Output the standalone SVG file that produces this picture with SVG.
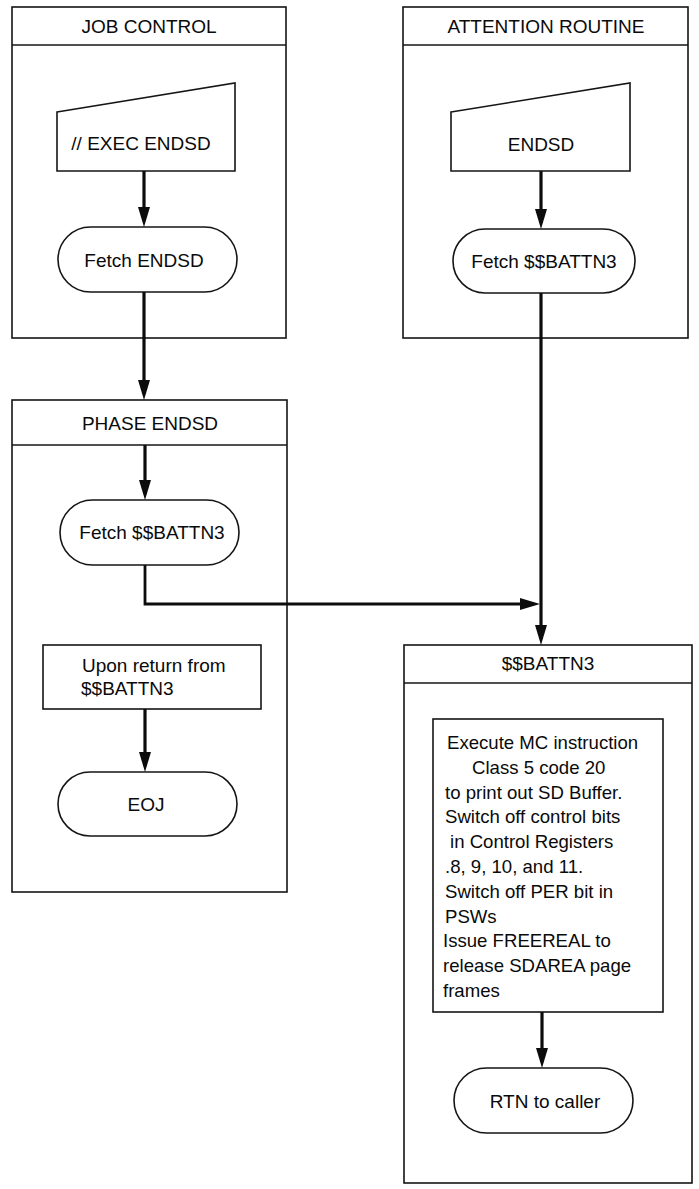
<svg xmlns="http://www.w3.org/2000/svg" width="699" height="1189" viewBox="0 0 699 1189">
  <style>
    .frame { fill: none; stroke: #151515; stroke-width: 1.6; }
    .shape { fill: #ffffff; stroke: #151515; stroke-width: 1.6; }
    .flow { fill: none; stroke: #0c0c0c; stroke-width: 3.2; }
    .label { font-family: "Liberation Sans", Arial, sans-serif; font-size: 19px; fill: #0a0a0a; }
    .body { font-size: 18.6px; }
    .mid { text-anchor: middle; }
  </style>
  <defs>
    <marker id="head" markerUnits="userSpaceOnUse" markerWidth="20" markerHeight="12" refX="14" refY="6" orient="auto">
      <path d="M0,0 L20,6 L0,12 z" fill="#0c0c0c"/>
    </marker>
  </defs>
  <rect width="699" height="1189" fill="#ffffff"/>

  <!-- JOB CONTROL panel -->
  <g id="job-control">
    <rect class="frame" x="12" y="7" width="274" height="331"/>
    <line class="frame" x1="12" y1="45" x2="286" y2="45"/>
    <text class="label mid" x="149" y="33">JOB CONTROL</text>
  </g>
  <g id="exec-endsd">
    <path class="shape" d="M57,112 L235,83 L235,171 L57,171 Z"/>
    <text class="label mid" x="141" y="150">// EXEC ENDSD</text>
  </g>
  <g id="fetch-endsd">
    <rect class="shape" x="58" y="227" width="179" height="65" rx="32.5"/>
    <text class="label mid" x="144" y="267">Fetch ENDSD</text>
  </g>

  <!-- ATTENTION ROUTINE panel -->
  <g id="attention-routine">
    <rect class="frame" x="403" y="7" width="285" height="331"/>
    <line class="frame" x1="403" y1="45" x2="688" y2="45"/>
    <text class="label mid" x="546" y="33">ATTENTION ROUTINE</text>
  </g>
  <g id="endsd-input">
    <path class="shape" d="M451,112 L630,83 L630,171 L451,171 Z"/>
    <text class="label mid" x="541" y="151">ENDSD</text>
  </g>
  <g id="attn-fetch">
    <rect class="shape" x="453" y="229" width="182" height="64" rx="32"/>
    <text class="label mid" x="544" y="268">Fetch $$BATTN3</text>
  </g>

  <!-- PHASE ENDSD panel -->
  <g id="phase-endsd">
    <rect class="frame" x="12" y="400" width="275" height="492"/>
    <line class="frame" x1="12" y1="445" x2="287" y2="445"/>
    <text class="label mid" x="150" y="430">PHASE ENDSD</text>
  </g>
  <g id="phase-fetch">
    <rect class="shape" x="60" y="500" width="179" height="65" rx="32.5"/>
    <text class="label mid" x="152" y="539">Fetch $$BATTN3</text>
  </g>
  <g id="upon-return">
    <rect class="shape" x="43" y="645" width="218" height="64"/>
    <text class="label" x="82" y="672">Upon return from</text>
    <text class="label" x="81" y="695">$$BATTN3</text>
  </g>
  <g id="eoj">
    <rect class="shape" x="58" y="772" width="179" height="64" rx="32"/>
    <text class="label mid" x="146" y="811">EOJ</text>
  </g>

  <!-- $$BATTN3 panel -->
  <g id="battn3">
    <rect class="frame" x="404" y="645" width="288" height="538"/>
    <line class="frame" x1="404" y1="683" x2="692" y2="683"/>
    <text class="label mid" x="548" y="670">$$BATTN3</text>
  </g>
  <g id="battn3-process">
    <rect class="shape" x="433" y="719" width="230" height="293"/>
    <text class="label body" x="447" y="749">Execute MC instruction</text>
    <text class="label body" x="472" y="773.8">Class 5 code 20</text>
    <text class="label body" x="445" y="798.6">to print out SD Buffer.</text>
    <text class="label body" x="445" y="823.4">Switch off control bits</text>
    <text class="label body" x="450" y="848.2">in Control Registers</text>
    <text class="label body" x="445" y="873">.8, 9, 10, and 11.</text>
    <text class="label body" x="445" y="897.8">Switch off PER bit in</text>
    <text class="label body" x="445" y="922.6">PSWs</text>
    <text class="label body" x="443" y="947.4">Issue FREEREAL to</text>
    <text class="label body" x="443" y="972.2">release SDAREA page</text>
    <text class="label body" x="443" y="997">frames</text>
  </g>
  <g id="rtn-caller">
    <rect class="shape" x="454" y="1068" width="179" height="65" rx="32.5"/>
    <text class="label mid" x="545" y="1108">RTN to caller</text>
  </g>

  <!-- Connectors -->
  <g id="connectors">
    <line class="flow" x1="144" y1="171" x2="144" y2="221" marker-end="url(#head)"/>
    <line class="flow" x1="144" y1="292" x2="144" y2="394" marker-end="url(#head)"/>
    <line class="flow" x1="145" y1="445" x2="145" y2="494" marker-end="url(#head)"/>
    <polyline class="flow" points="145,565 145,604 534,604" style="stroke-width:2.8" marker-end="url(#head)"/>
    <line class="flow" x1="145" y1="709" x2="145" y2="766" marker-end="url(#head)"/>
    <line class="flow" x1="541" y1="171" x2="541" y2="223" marker-end="url(#head)"/>
    <line class="flow" x1="541" y1="293" x2="541" y2="639" marker-end="url(#head)"/>
    <line class="flow" x1="542" y1="1012" x2="542" y2="1062" marker-end="url(#head)"/>
  </g>
</svg>
